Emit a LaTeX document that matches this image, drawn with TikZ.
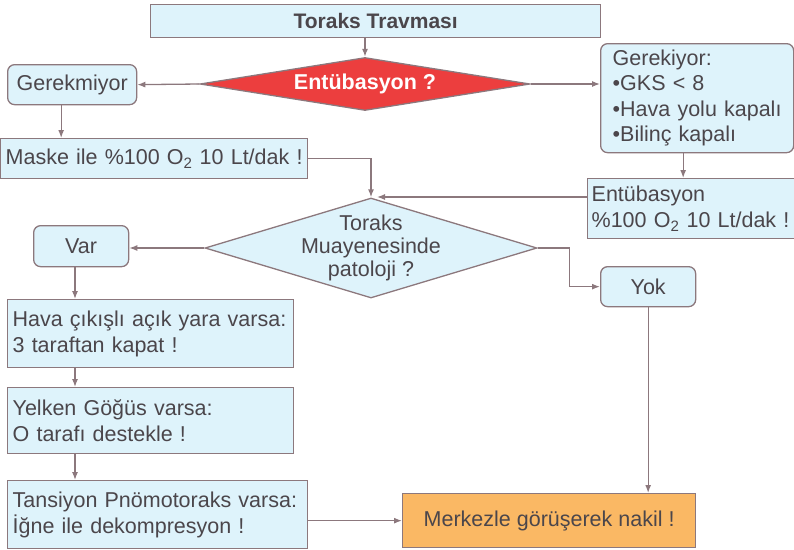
\documentclass[tikz,border=0pt]{standalone}
\usepackage{fontspec}
\setmainfont{Liberation Sans}
\usetikzlibrary{shapes.geometric,arrows.meta,positioning}
\definecolor{edge}{HTML}{8C787D}
\definecolor{ink}{HTML}{4B464B}
\definecolor{cyanfill}{HTML}{DEF3FB}
\definecolor{redfill}{HTML}{EC3E3E}
\definecolor{orangefill}{HTML}{FAB864}
\begin{document}
\begin{tikzpicture}[
    x=1pt, y=-1pt,
    block/.style={rectangle, draw=edge, fill=cyanfill, line width=1.3pt, text=ink, anchor=north west,
                  inner xsep=5pt, inner ysep=0pt, align=left, font=\fontsize{21.5}{26}\selectfont},
    round/.style={block, rounded corners=7pt, align=center},
    decision/.style={diamond, draw=edge, line width=1.3pt, inner sep=0pt},
    arrow/.style={-{Latex[length=8pt,width=6pt]}, draw=edge, line width=1.3pt}
]
\useasboundingbox (0,0) rectangle (794,549);

% Title
\node[block, minimum width=450pt, minimum height=33pt, align=center, font=\bfseries\fontsize{21}{26}\selectfont] (title) at (150,4) {Toraks Travması};

% Intubation decision
\node[decision, fill=redfill, minimum width=330pt, minimum height=53pt, aspect=6, text=white, font=\bfseries\fontsize{21.5}{26}\selectfont] (intub) at (365,84) {Entübasyon ?};

% Branches
\node[round, minimum width=129pt, minimum height=40pt] (nointub) at (7,64) {Gerekmiyor};
\node[block, rounded corners=7pt, text width=169pt, minimum height=109pt, inner xsep=12pt, font=\fontsize{21.5}{25.5}\selectfont] (needed) at (600,43) {Gerekiyor:\\•GKS < 8\\•Hava yolu kapalı\\•Bilinç kapalı};

% Oxygen
\node[block, text width=297pt, minimum height=40pt] (mask) at (0,138) {Maske ile \%100 O\textsubscript{2} 10 Lt/dak !};
\node[block, text width=199pt, minimum height=60pt, inner xsep=4pt] (intubO2) at (587,178) {Entübasyon\\\%100~O\textsubscript{2}~10~Lt/dak~!};

% Examination decision
\node[decision, fill=cyanfill, minimum width=332pt, minimum height=100pt] (exam) at (371,248) {};
\node[text=ink, align=center, font=\fontsize{21.5}{23}\selectfont] (examtext) at (exam.center) {Toraks\\Muayenesinde\\patoloji ?};

% Findings
\node[round, minimum width=95pt, minimum height=41pt] (found) at (33,225) {Var};
\node[round, minimum width=95pt, minimum height=40pt] (notfound) at (600,266) {Yok};

\node[block, text width=276pt, minimum height=68pt] (wound) at (7,299) {Hava çıkışlı açık yara varsa:\\3 taraftan kapat !};
\node[block, text width=276pt, minimum height=66pt] (flail) at (7,387) {Yelken Göğüs varsa:\\O tarafı destekle !};
\node[block, text width=290pt, minimum height=68pt] (tension) at (7,480) {Tansiyon Pnömotoraks varsa:\\İğne ile dekompresyon !};

% Transfer
\node[block, fill=orangefill, minimum width=293pt, minimum height=54pt, align=center] (transfer) at (402,493) {Merkezle görüşerek nakil !};

% Arrows
\coordinate (merge) at (377,197);
\coordinate (lane) at (75,0);
\draw[arrow] (title.south -| intub.north) -- (intub.north);
\draw[arrow] (intub.west) -- (nointub.east);
\draw[arrow] (intub.east) -- (intub.east -| needed.west);
\draw[arrow] ([xshift=-11pt]nointub.south) -- ([xshift=-11pt]nointub.south |- mask.north);
\draw[arrow] ([xshift=-14pt]needed.south) -- ([xshift=-14pt]needed.south |- intubO2.north);
\draw[arrow] (mask.east) -| (exam.north);
\draw[arrow] (intubO2.west |- merge) -- (merge);
\draw[arrow] (exam.west) -- (exam.west -| found.east);
\draw[arrow] (exam.east) -- ++(32,0) |- (notfound.west);
\draw[arrow] (found.south -| lane) -- (lane |- wound.north);
\draw[arrow] (wound.south -| lane) -- (lane |- flail.north);
\draw[arrow] (flail.south -| lane) -- (lane |- tension.north);
\draw[arrow] (tension.east |- transfer.west) -- (transfer.west);
\draw[arrow] (notfound.south) -- (notfound.south |- transfer.north);

\end{tikzpicture}
\end{document}
